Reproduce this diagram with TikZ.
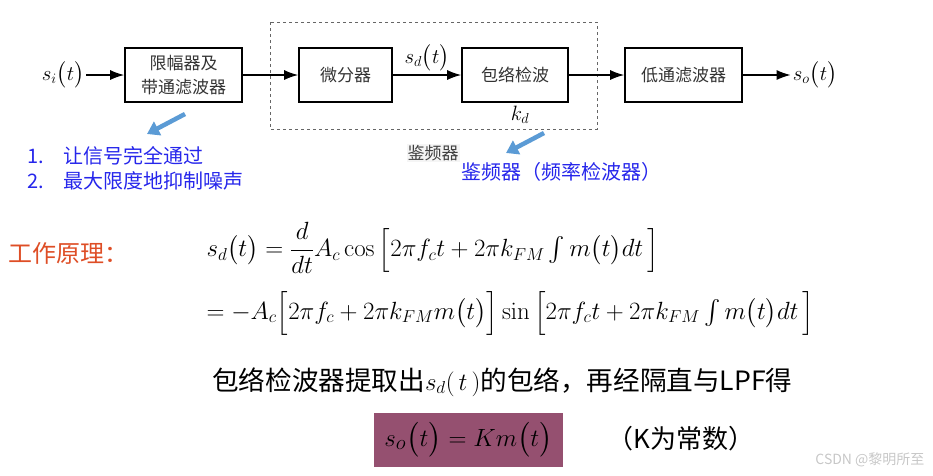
\documentclass[tikz,border=0pt]{standalone}
\usepackage{amsmath}
\usepackage{amssymb}
\usepackage[no-math]{fontspec}
\newfontfamily\cjk{Noto Sans CJK SC}
\usepackage{xcolor}
\usepackage{tikz}
\usetikzlibrary{arrows.meta}

\definecolor{hintblue}{RGB}{38,38,235}
\definecolor{arrowblue}{RGB}{91,155,213}
\definecolor{titlered}{RGB}{222,78,38}
\definecolor{boxpurple}{RGB}{149,80,112}

\begin{document}
\begin{tikzpicture}[x=1pt, y=-1pt,
    block/.style={draw, line width=1.6pt, minimum height=54pt, inner sep=0pt,
      align=center, text=black!80, font=\cjk\fontsize{17}{24}\selectfont},
    sig/.style={line width=1.4pt, -{Latex[length=14pt,width=10pt]}},
    hint/.style={arrowblue, line width=4.5pt, -{Triangle[length=12pt,width=15pt]}},
    bluetext/.style={anchor=west, text=hintblue, font=\cjk\fontsize{20}{25}\selectfont},
    sym/.style={font=\fontsize{22}{26}\selectfont, inner sep=2pt}]
    \useasboundingbox (0,0) rectangle (933,475);

    % demodulator frame
    \draw[dashed, black!60, line width=0.8pt] (270,22) rectangle (597,129);

    % blocks
    \node[block, minimum width=117pt] (lim) at (183.5,75) {限幅器及\\带通滤波器};
    \node[block, minimum width=93pt] (diff) at (345.5,75) {微分器};
    \node[block, minimum width=106pt] (env) at (515,75) {包络检波};
    \node[block, minimum width=117pt] (lpf) at (683.5,75) {低通滤波器};
    \node[sym] (si) at (63,75) {$s_i\big(t\big)$};
    \node[sym] (so) at (815,75) {$s_o\big(t\big)$};

    % signal path
    \draw[sig] (si) -- (lim);
    \draw[sig] (lim) -- (diff);
    \draw[sig] (diff) -- node[sym, above=1pt] (sdlab) {$s_d\big(t\big)$} (env);
    \draw[sig] (env) -- (lpf);
    \draw[sig] (lpf) -- (so);

    \node[sym] (kd) at (520,115) {$k_d$};
    \node[fill=black!4, text=black!75, inner sep=1pt,
      font=\cjk\fontsize{17}{20}\selectfont] (demod) at (433,153) {鉴频器};

    % remarks
    \coordinate (h1tail) at (185,114);
    \coordinate (h1tip) at (147,134);
    \coordinate (h2tail) at (544,133);
    \coordinate (h2tip) at (506,153);
    \draw[hint] (h1tail) -- (h1tip);
    \draw[hint] (h2tail) -- (h2tip);
    \node[bluetext] (item1) at (24,156) {\makebox[36pt][l]{1.}让信号完全通过};
    \node[bluetext] (item2) at (24,181) {\makebox[36pt][l]{2.}最大限度地抑制噪声};
    \node[bluetext] (demodname) at (458,172) {鉴频器（频率检波器）};

    % principle
    \node[anchor=west, text=titlered, font=\cjk\fontsize{24}{28}\selectfont] (title) at (5,253) {工作原理：};
    \node[anchor=west, font=\fontsize{24.4}{28}\selectfont] (eq1) at (203,248)
      {$s_d\big(t\big)=\dfrac{d}{dt}A_c\cos\Big[2\pi f_c t+2\pi k_{FM}\int m\big(t\big)dt\,\Big]$};
    \node[anchor=west, font=\fontsize{24.4}{28}\selectfont] (eq2) at (203,313)
      {$=-A_c\Big[2\pi f_c+2\pi k_{FM}m\big(t\big)\Big]\sin\Big[2\pi f_c t+2\pi k_{FM}\int m\big(t\big)dt\,\Big]$};
    \node[anchor=west, inner sep=0pt, font=\cjk\fontsize{26.6}{30}\selectfont] (note) at (212,382)
      {包络检波器提取出$s_d(\,t\,)$的包络，再经隔直与LPF得};
    \node[fill=boxpurple, minimum width=189pt, minimum height=54pt,
      font=\fontsize{29}{33}\selectfont] (result) at (468.5,440) {$s_o\big(t\big)=Km\big(t\big)$};
    \node[anchor=west, font=\cjk\fontsize{26}{30}\selectfont] (const) at (604,439) {（K为常数）};
    \node[anchor=east, text=black!22, font=\cjk\fontsize{14}{16}\selectfont] (mark) at (928,460) {CSDN @黎明所至};
\end{tikzpicture}
\end{document}
